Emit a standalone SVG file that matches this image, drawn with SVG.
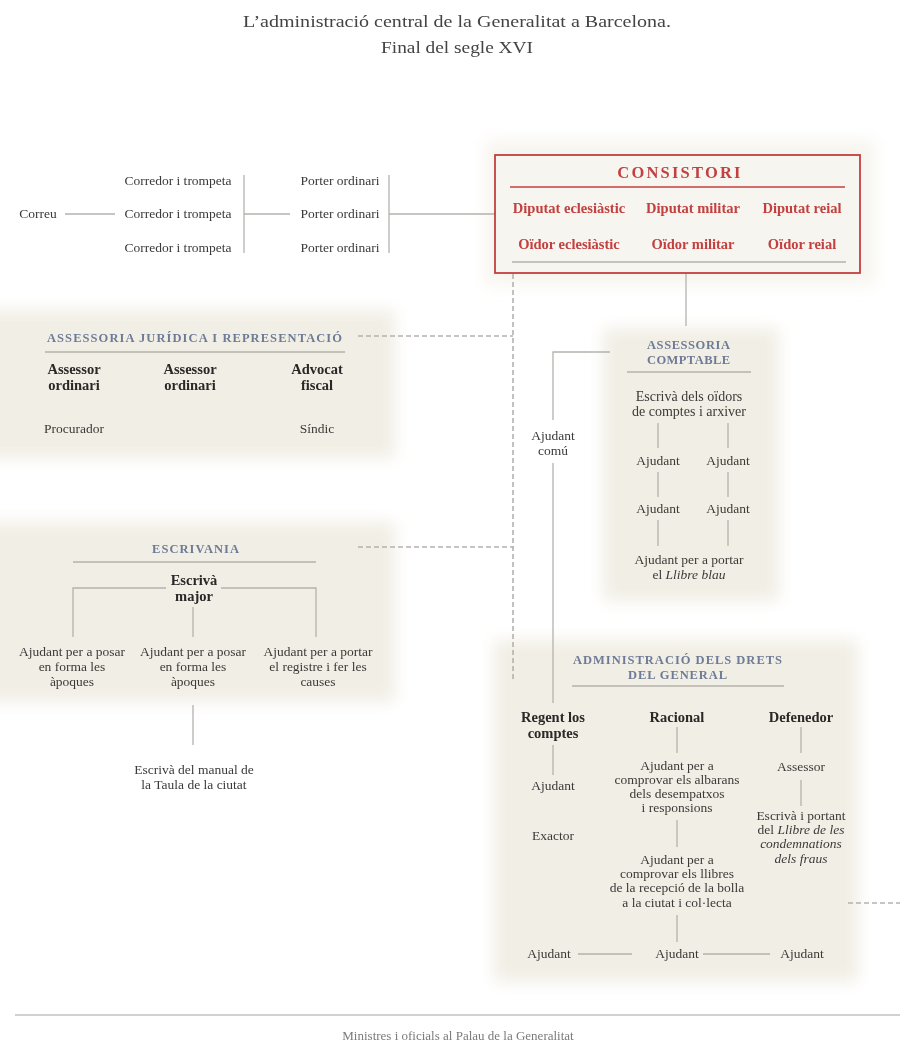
<svg xmlns="http://www.w3.org/2000/svg" width="900" height="1062" viewBox="0 0 900 1062">
<defs>
<filter id="soft" x="-10%" y="-10%" width="120%" height="120%"><feGaussianBlur stdDeviation="8"/></filter>
<style>
text{font-family:"Liberation Serif","DejaVu Serif",serif;fill:#3c3a38;font-size:13.5px;text-anchor:middle}
.t{font-size:17.5px;fill:#444}
.b{font-weight:bold;font-size:14.5px;fill:#2a2826}
.r{font-weight:bold;font-size:14.5px;fill:#c2403f}
.rh{font-weight:bold;font-size:16.5px;fill:#c2403f;letter-spacing:2.2px}
.h{font-weight:bold;font-size:12.5px;fill:#6d7b96;letter-spacing:1px}
.i{font-style:italic}
.f{font-size:13px;fill:#7a7a7a}
.bg{fill:#f1eee5}
.ln{stroke:#b4b2ad;stroke-width:1.3;fill:none}
.ds{stroke:#b4b2ad;stroke-width:1.6;fill:none;stroke-dasharray:5 3}
</style>
</defs>
<rect width="900" height="1062" fill="#ffffff"/>
<g id="backgrounds" filter="url(#soft)">
<rect class="bg" x="485" y="140" width="390" height="145" opacity="0.6"/>
<rect class="bg" x="-20" y="310" width="415" height="148"/>
<rect class="bg" x="603" y="328" width="176" height="273"/>
<rect class="bg" x="-20" y="522" width="415" height="180"/>
<rect class="bg" x="494" y="640" width="364" height="342"/>
</g>
<g id="title">
<text class="t" x="457" y="27" textLength="428" lengthAdjust="spacingAndGlyphs">L’administració central de la Generalitat a Barcelona.</text>
<text class="t" x="457" y="53" textLength="152" lengthAdjust="spacingAndGlyphs">Final del segle XVI</text>
</g>
<g id="connectors">
<line class="ln" x1="65" y1="214" x2="115" y2="214"/>
<line class="ln" x1="244" y1="175" x2="244" y2="253"/>
<line class="ln" x1="244" y1="214" x2="290" y2="214"/>
<line class="ln" x1="389" y1="175" x2="389" y2="253"/>
<line class="ln" x1="389" y1="214" x2="495" y2="214"/>
<line class="ln" x1="686" y1="262" x2="686" y2="326"/>
<polyline class="ds" points="513,274 513,680"/>
<polyline class="ds" points="358,336 513,336"/>
<polyline class="ds" points="358,547 513,547"/>
<polyline class="ds" points="848,903 900,903"/>
<polyline class="ln" points="610,352 553,352 553,420"/>
<line class="ln" x1="553" y1="463" x2="553" y2="703"/>
<line class="ln" x1="658" y1="423" x2="658" y2="448"/>
<line class="ln" x1="728" y1="423" x2="728" y2="448"/>
<line class="ln" x1="658" y1="472" x2="658" y2="497"/>
<line class="ln" x1="728" y1="472" x2="728" y2="497"/>
<line class="ln" x1="658" y1="520" x2="658" y2="546"/>
<line class="ln" x1="728" y1="520" x2="728" y2="546"/>
<polyline class="ln" points="73,637 73,588 166,588"/>
<polyline class="ln" points="221,588 316,588 316,637"/>
<line class="ln" x1="193" y1="607" x2="193" y2="637"/>
<line class="ln" x1="193" y1="705" x2="193" y2="745"/>
<line class="ln" x1="553" y1="745" x2="553" y2="775"/>
<line class="ln" x1="677" y1="727" x2="677" y2="753"/>
<line class="ln" x1="677" y1="820" x2="677" y2="847"/>
<line class="ln" x1="677" y1="915" x2="677" y2="942"/>
<line class="ln" x1="801" y1="727" x2="801" y2="753"/>
<line class="ln" x1="801" y1="780" x2="801" y2="806"/>
<line class="ln" x1="578" y1="954" x2="632" y2="954"/>
<line class="ln" x1="703" y1="954" x2="770" y2="954"/>
<line x1="15" y1="1015" x2="900" y2="1015" stroke="#c4c2bd" stroke-width="1.3"/>
</g>
<g id="correu">
<text x="38" y="218">Correu</text>
</g>
<g id="corredors">
<text x="178" y="185">Corredor i trompeta</text>
<text x="178" y="218">Corredor i trompeta</text>
<text x="178" y="252">Corredor i trompeta</text>
</g>
<g id="porters">
<text x="340" y="185">Porter ordinari</text>
<text x="340" y="218">Porter ordinari</text>
<text x="340" y="252">Porter ordinari</text>
</g>
<g id="consistori">
<rect x="495" y="155" width="365" height="118" fill="#f7f5f0" stroke="#c2403f" stroke-width="1.8"/>
<text class="rh" x="680" y="178">CONSISTORI</text>
<line x1="510" y1="187" x2="845" y2="187" stroke="#c2403f" stroke-width="1.5"/>
<text class="r" x="569" y="213">Diputat eclesiàstic</text>
<text class="r" x="693" y="213">Diputat militar</text>
<text class="r" x="802" y="213">Diputat reial</text>
<text class="r" x="569" y="249">Oïdor eclesiàstic</text>
<text class="r" x="693" y="249">Oïdor militar</text>
<text class="r" x="802" y="249">Oïdor reial</text>
<line class="ln" x1="512" y1="262" x2="846" y2="262"/>
</g>
<g id="assessoria-juridica">
<text class="h" x="195" y="342" textLength="296">ASSESSORIA JURÍDICA I REPRESENTACIÓ</text>
<line class="ln" x1="45" y1="352" x2="345" y2="352"/>
<text class="b" x="74" y="374">Assessor</text>
<text class="b" x="74" y="390">ordinari</text>
<text class="b" x="190" y="374">Assessor</text>
<text class="b" x="190" y="390">ordinari</text>
<text class="b" x="317" y="374">Advocat</text>
<text class="b" x="317" y="390">fiscal</text>
<text x="74" y="433">Procurador</text>
<text x="317" y="433">Síndic</text>
</g>
<g id="ajudant-comu">
<text x="553" y="440">Ajudant</text>
<text x="553" y="455">comú</text>
</g>
<g id="assessoria-comptable">
<text class="h" x="689" y="349" textLength="84">ASSESSORIA</text>
<text class="h" x="689" y="364" textLength="84">COMPTABLE</text>
<line class="ln" x1="627" y1="372" x2="751" y2="372"/>
<text x="689" y="401" style="font-size:14px">Escrivà dels oïdors</text>
<text x="689" y="416" style="font-size:14px">de comptes i arxiver</text>
<text x="658" y="465">Ajudant</text>
<text x="728" y="465">Ajudant</text>
<text x="658" y="513">Ajudant</text>
<text x="728" y="513">Ajudant</text>
<text x="689" y="564">Ajudant per a portar</text>
<text x="689" y="579">el <tspan class="i">Llibre blau</tspan></text>
</g>
<g id="escrivania">
<text class="h" x="196" y="553" textLength="88">ESCRIVANIA</text>
<line class="ln" x1="73" y1="562" x2="316" y2="562"/>
<text class="b" x="194" y="585">Escrivà</text>
<text class="b" x="194" y="601">major</text>
<text x="72" y="656">Ajudant per a posar</text>
<text x="72" y="671">en forma les</text>
<text x="72" y="686">àpoques</text>
<text x="193" y="656">Ajudant per a posar</text>
<text x="193" y="671">en forma les</text>
<text x="193" y="686">àpoques</text>
<text x="318" y="656">Ajudant per a portar</text>
<text x="318" y="671">el registre i fer les</text>
<text x="318" y="686">causes</text>
<text x="194" y="774">Escrivà del manual de</text>
<text x="194" y="789">la Taula de la ciutat</text>
</g>
<g id="administracio">
<text class="h" x="678" y="664" textLength="210">ADMINISTRACIÓ DELS DRETS</text>
<text class="h" x="678" y="679" textLength="100">DEL GENERAL</text>
<line class="ln" x1="572" y1="686" x2="784" y2="686"/>
<text class="b" x="553" y="722">Regent los</text>
<text class="b" x="553" y="738">comptes</text>
<text class="b" x="677" y="722">Racional</text>
<text class="b" x="801" y="722">Defenedor</text>
<text x="553" y="790">Ajudant</text>
<text x="553" y="840">Exactor</text>
<text x="677" y="770">Ajudant per a</text>
<text x="677" y="784">comprovar els albarans</text>
<text x="677" y="798">dels desempatxos</text>
<text x="677" y="812">i responsions</text>
<text x="677" y="864">Ajudant per a</text>
<text x="677" y="878">comprovar els llibres</text>
<text x="677" y="892">de la recepció de la bolla</text>
<text x="677" y="907">a la ciutat i col·lecta</text>
<text x="801" y="771">Assessor</text>
<text x="801" y="820">Escrivà i portant</text>
<text x="801" y="834">del <tspan class="i">Llibre de les</tspan></text>
<text class="i" x="801" y="848">condemnations</text>
<text class="i" x="801" y="863">dels fraus</text>
<text x="549" y="958">Ajudant</text>
<text x="677" y="958">Ajudant</text>
<text x="802" y="958">Ajudant</text>
</g>
<g id="footer">
<text class="f" x="458" y="1040">Ministres i oficials al Palau de la Generalitat</text>
</g>
</svg>
